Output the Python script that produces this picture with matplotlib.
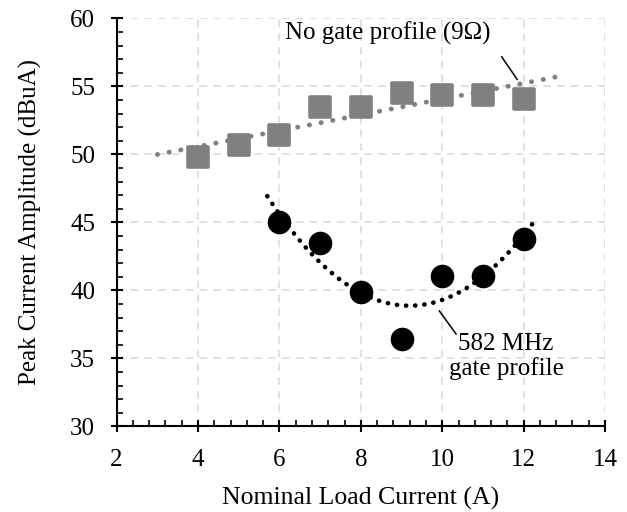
import numpy as np
import matplotlib.pyplot as plt
from matplotlib.markers import MarkerStyle
from matplotlib.ticker import MultipleLocator

plt.rcParams['font.family'] = ['Liberation Serif', 'DejaVu Serif']

# arus beban nominal (A) dan amplitudo arus puncak (dBuA)
arus_nogate = [4, 5, 6, 7, 8, 9, 10, 11, 12]
puncak_nogate = [49.8, 50.7, 51.4, 53.5, 53.5, 54.5, 54.35, 54.35, 54.07]

arus_gate = [6, 7, 8, 9, 10, 11, 12]
puncak_gate = [45.0, 43.5, 39.9, 36.4, 41.1, 41.1, 43.8]

abu = '#808080'

fig = plt.figure(figsize=(6.27, 5.12), dpi=100)
ax = fig.add_axes([0.186, 0.167, 0.779, 0.797])

# garis tren linear (no gate) dan kuadratik (582 MHz)
k1 = np.polyfit(arus_nogate, puncak_nogate, 1)
xt1 = np.linspace(3, 13, 200)
ax.plot(xt1, np.polyval(k1, xt1), color=abu, lw=3.5,
        linestyle=(0, (0.05, 2.4)), dash_capstyle='round', zorder=2)

k2 = np.polyfit(arus_gate, puncak_gate, 2)
xt2 = np.linspace(5.7, 12.3, 200)
ax.plot(xt2, np.polyval(k2, xt2), color='black', lw=3.3,
        linestyle=(0, (0.05, 1.95)), dash_capstyle='round', zorder=2)

# titik data
kotak = MarkerStyle('s', joinstyle='round')
ax.plot(arus_nogate, puncak_nogate, linestyle='none', marker=kotak,
        markersize=14, color=abu, markeredgewidth=2.6, zorder=3)
ax.plot(arus_gate, puncak_gate, linestyle='none', marker='o',
        markersize=16, color='black', zorder=3)

# keterangan
ax.text(8.67, 58.9, 'No gate profile (9Ω)', fontsize=18, ha='center', va='center')
ax.plot([11.46, 11.84], [57.18, 55.52], color='black', lw=1.1)
ax.text(11.57, 35.14, '582 MHz\ngate profile', fontsize=18, ha='center',
        va='center', linespacing=1.1)
ax.plot([9.93, 10.34], [38.49, 36.8], color='black', lw=1.1)

ax.set_xlim(2, 14)
ax.set_ylim(30, 60)
ax.xaxis.set_major_locator(MultipleLocator(2))
ax.xaxis.set_minor_locator(MultipleLocator(0.4))
ax.yaxis.set_major_locator(MultipleLocator(5))
ax.yaxis.set_minor_locator(MultipleLocator(1))

ax.grid(True, which='major', color='#d9d9d9', linestyle=(0, (5, 4)), lw=1.1)
ax.set_axisbelow(True)
for s in ['top', 'right']:
    ax.spines[s].set_visible(False)
for s in ['left', 'bottom']:
    ax.spines[s].set_linewidth(1.5)
    ax.spines[s].set_zorder(4)

ax.tick_params(which='major', direction='inout', length=9, width=1.5,
               labelsize=18)
ax.tick_params(axis='x', which='major', pad=12)
ax.tick_params(axis='y', which='major', pad=11)
ax.tick_params(which='minor', direction='in', length=4.5, width=1.2)

ax.set_xlabel('Nominal Load Current (A)', fontsize=18.5, labelpad=11)
ax.set_ylabel('Peak Current Amplitude (dBuA)', fontsize=18, labelpad=20)

plt.savefig('out.png', dpi=100)
